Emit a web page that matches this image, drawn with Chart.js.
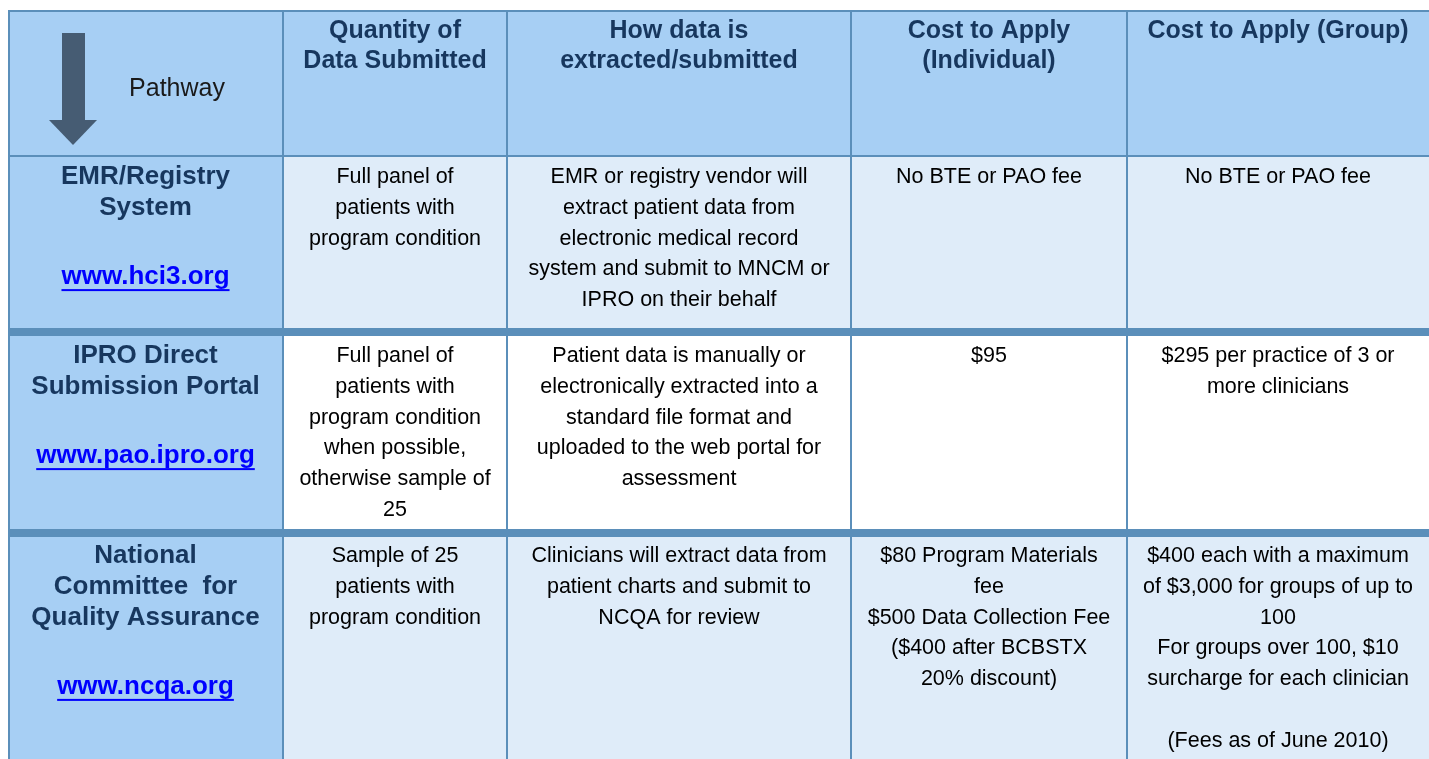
<!DOCTYPE html>
<html>
<head>
<meta charset="utf-8">
<script src="https://cdn.jsdelivr.net/npm/chart.js@4.4.1/dist/chart.umd.min.js"></script>
<style>
  html, body { margin: 0; padding: 0; background: #fff; }
  canvas { display: block; }
</style>
</head>
<body>
<canvas id="myChart" width="1429" height="759"></canvas>
<script>
// table content
const headers = ['Quantity of\nData Submitted', 'How data is\nextracted/submitted', 'Cost to Apply\n(Individual)', 'Cost to Apply (Group)'];
const pathwayLabel = 'Pathway';
const pathways = [
  ['EMR/Registry', 'System'],
  ['IPRO Direct', 'Submission Portal'],
  ['National', 'Committee  for', 'Quality Assurance']
];
const links = ['www.hci3.org', 'www.pao.ipro.org', 'www.ncqa.org'];
const quantity = [
  ['Full panel of', 'patients with', 'program condition'],
  ['Full panel of', 'patients with', 'program condition', 'when possible,', 'otherwise sample of', '25'],
  ['Sample of 25', 'patients with', 'program condition']
];
const extraction = [
  ['EMR or registry vendor will', 'extract patient data from', 'electronic medical record', 'system and submit to MNCM or', 'IPRO on their behalf'],
  ['Patient data is manually or', 'electronically extracted into a', 'standard file format and', 'uploaded to the web portal for', 'assessment'],
  ['Clinicians will extract data from', 'patient charts and submit to', 'NCQA for review']
];
const costIndividual = [
  ['No BTE or PAO fee'],
  ['$95'],
  ['$80 Program Materials', 'fee', '$500 Data Collection Fee', '($400 after BCBSTX', '20% discount)']
];
const costGroup = [
  ['No BTE or PAO fee'],
  ['$295 per practice of 3 or', 'more clinicians'],
  ['$400 each with a maximum', 'of $3,000 for groups of up to', '100', 'For groups over 100, $10', 'surcharge for each clinician', '', '(Fees as of June 2010)']
];

// layout (in canvas units, mapped through the scales)
const layout = {
  colEdges: [8, 283, 507, 851, 1127, 1429],
  top: 10,
  headerBottom: 156,
  separators: [332, 533],
  rowTops: [157, 336, 536],
  bottom: 759,
  lineGap: 30.8
};

const FONT = "'Liberation Sans', Arial, sans-serif";
const colors = {
  header: '#a7cff4',
  bodyLight: '#dfecf9',
  bodyWhite: '#ffffff',
  grid: '#5b8fba',
  navy: '#17375e',
  link: '#0000ff',
  text: '#000000',
  arrow: '#465c73'
};

const tablePlugin = {
  id: 'tablePlugin',
  beforeDatasetsDraw(chart) {
    const ctx = chart.ctx;
    const xs = chart.scales.x, ys = chart.scales.y;
    const X = v => xs.getPixelForValue(v);
    const Y = v => ys.getPixelForValue(v);
    const ce = layout.colEdges;
    const rowBottoms = [layout.separators[0] - 4, layout.separators[1] - 4, layout.bottom];
    const bodyFills = [colors.bodyLight, colors.bodyWhite, colors.bodyLight];

    ctx.save();
    // header band
    ctx.fillStyle = colors.header;
    ctx.fillRect(X(ce[0]), Y(layout.top), X(ce[5]) - X(ce[0]), Y(layout.headerBottom) - Y(layout.top));
    // body cells
    for (let r = 0; r < 3; r++) {
      const y0 = Y(r === 0 ? layout.headerBottom : layout.separators[r - 1]);
      const y1 = Y(rowBottoms[r]);
      ctx.fillStyle = colors.header;
      ctx.fillRect(X(ce[0]), y0, X(ce[1]) - X(ce[0]), y1 - y0);
      ctx.fillStyle = bodyFills[r];
      ctx.fillRect(X(ce[1]), y0, X(ce[5]) - X(ce[1]), y1 - y0);
    }

    // thin grid lines
    ctx.strokeStyle = colors.grid;
    ctx.lineWidth = 2;
    ctx.beginPath();
    ctx.moveTo(X(ce[0]), Y(layout.top) + 1);
    ctx.lineTo(X(ce[5]), Y(layout.top) + 1);
    ctx.moveTo(X(ce[0]), Y(layout.headerBottom));
    ctx.lineTo(X(ce[5]), Y(layout.headerBottom));
    for (let c = 0; c < 5; c++) {
      const x = X(ce[c]) + (c === 0 ? 1 : 0);
      ctx.moveTo(x, Y(layout.top));
      ctx.lineTo(x, Y(layout.bottom));
    }
    ctx.stroke();

    // thick row separators
    ctx.lineWidth = 8;
    ctx.beginPath();
    layout.separators.forEach(s => {
      ctx.moveTo(X(ce[0]), Y(s));
      ctx.lineTo(X(ce[5]), Y(s));
    });
    ctx.stroke();

    // arrow
    ctx.fillStyle = colors.arrow;
    ctx.fillRect(X(62), Y(33), X(85) - X(62), Y(121) - Y(33));
    ctx.beginPath();
    ctx.moveTo(X(49), Y(120));
    ctx.lineTo(X(97), Y(120));
    ctx.lineTo(X(73), Y(145));
    ctx.closePath();
    ctx.fill();

    ctx.textAlign = 'center';
    ctx.textBaseline = 'middle';

    // "Pathway"
    ctx.fillStyle = '#1a1a1a';
    ctx.font = '25px ' + FONT;
    ctx.fillText(pathwayLabel, X(177), Y(89));

    // headers
    ctx.fillStyle = colors.navy;
    ctx.font = 'bold 25px ' + FONT;
    headers.forEach((h, i) => {
      const cx = (X(ce[i + 1]) + X(ce[i + 2])) / 2;
      h.split('\n').forEach((line, j) => {
        ctx.fillText(line, cx, Y(31 + j * 30));
      });
    });

    // body rows
    const cols = [quantity, extraction, costIndividual, costGroup];
    for (let r = 0; r < 3; r++) {
      const first = layout.rowTops[r] + 20;
      // pathway names
      const lx = (X(ce[0]) + X(ce[1])) / 2;
      ctx.fillStyle = colors.navy;
      ctx.font = 'bold 26px ' + FONT;
      pathways[r].forEach((line, j) => {
        ctx.fillText(line, lx, Y(first + j * layout.lineGap));
      });
      // link
      const ly = Y(first + (pathways[r].length + 1.25) * layout.lineGap);
      ctx.fillStyle = colors.link;
      ctx.fillText(links[r], lx, ly);
      const w = ctx.measureText(links[r]).width;
      ctx.fillRect(lx - w / 2, ly + 12, w, 2);

      // cell text
      ctx.fillStyle = colors.text;
      ctx.font = '21.5px ' + FONT;
      cols.forEach((col, c) => {
        const cx = (X(ce[c + 1]) + X(ce[c + 2])) / 2;
        col[r].forEach((line, j) => {
          ctx.fillText(line, cx, Y(first + j * layout.lineGap));
        });
      });
    }
    ctx.restore();
  }
};

const ctx = document.getElementById('myChart');
const myTable = new Chart(ctx, {
  type: 'scatter',
  data: { datasets: [] },
  options: {
    responsive: false,
    animation: false,
    layout: { padding: 0 },
    plugins: {
      legend: { display: false },
      tooltip: { enabled: false }
    },
    scales: {
      x: { type: 'linear', min: 0, max: 1429, display: false },
      y: { type: 'linear', min: 0, max: 759, reverse: true, display: false }
    }
  },
  plugins: [tablePlugin]
});
</script>
</body>
</html>
